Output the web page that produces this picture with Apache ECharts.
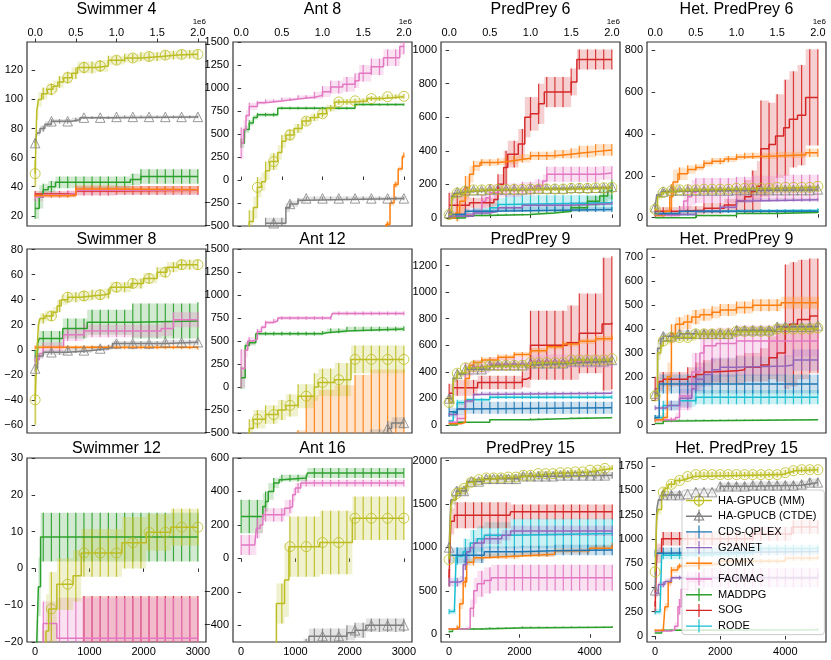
<!DOCTYPE html>
<html>
 <head>
  <meta charset="utf-8" />
  <title>Benchmark returns</title>
  <script src="https://cdn.jsdelivr.net/npm/echarts@6.0.0/dist/echarts.min.js"></script>
  <style>html, body { margin: 0; padding: 0; background: #fff; }</style>
 </head>
 <body>
  <div id="main" style="width: 831px;height:660px;"></div>
  <script type="text/javascript">

    // every series is a step curve: [x, mean, std] (x in 1e6 steps for the first two rows)
    var sw4_mm = [[0,49,9],[0.02,92,6],[0.04,100,5],[0.08,104,4],[0.15,107,4],[0.22,109,4],[0.28,112,4],[0.35,115,4],[0.45,118,4],[0.52,122,4],[0.75,123,4],[0.9,127,3],[1.1,128.5,3],[1.3,129.5,3],[1.55,130.5,3],[1.75,131,3],[2.0,131,3]];
    var sw4_ctde = [[0,70,3],[0.02,77,2],[0.06,80,2],[0.12,83,2],[0.2,85,1.5],[0.45,86,1.5],[0.55,87.5,1],[1.0,88,1],[2.0,88,1]];
    var sw4_comix = [[0,34,1.5],[0.46,34,1.5],[0.5,38.5,2.5],[1.0,38,2.5],[2.0,38,2.5]];
    var sw4_facmac = [[0,33,3],[0.1,34.5,2],[0.4,35.5,2],[0.5,37.5,3],[2.0,37.5,3]];
    var sw4_maddpg = [[0,25,7],[0.05,33,8],[0.1,38,4],[0.16,40,4],[0.25,43,4],[1.17,45,4],[1.3,47,5],[2.0,47,5]];
    var sw4_sog = [[0,35,2],[0.5,37,3],[1.0,37.5,3],[2.0,37.5,3]];

    var ant8_mm = [[0.05,-700,100],[0.1,-450,120],[0.15,-300,120],[0.2,-80,110],[0.25,-20,100],[0.3,100,100],[0.35,200,90],[0.45,300,80],[0.5,420,70],[0.55,490,60],[0.65,560,50],[0.75,640,45],[0.85,680,40],[0.95,720,40],[1.05,780,35],[1.15,848,30],[1.4,860,25],[1.55,885,25],[1.75,905,25],[2.0,910,25]];
    var ant8_ctde = [[0.3,-470,60],[0.55,-300,50],[0.6,-260,35],[0.7,-220,25],[0.8,-200,20],[2.0,-200,20]];
    var ant8_comix = [[1.72,-700,30],[1.78,-480,30],[1.83,-250,30],[1.88,-50,30],[1.93,120,30],[1.98,250,30],[2.0,270,30]];
    var ant8_facmac = [[0,400,170],[0.03,550,100],[0.06,700,60],[0.1,800,40],[0.2,840,20],[0.3,860,15],[0.5,880,15],[0.7,900,20],[0.9,920,40],[1.0,960,60],[1.1,1010,70],[1.25,1040,80],[1.4,1080,80],[1.45,1160,90],[1.6,1230,90],[1.75,1330,90],[1.95,1450,90],[2.0,1460,90]];
    var ant8_maddpg = [[0,400,50],[0.04,550,40],[0.1,620,30],[0.15,680,25],[0.2,710,20],[0.45,780,15],[1.35,780,15],[1.4,820,12],[2.0,820,12]];

    var pp6_mm = [[0,20,10],[0.03,120,20],[0.06,140,15],[0.1,148,15],[0.2,160,15],[0.3,167,12],[0.5,170,12],[1.0,172,12],[1.5,176,12],[1.8,180,12],[2.0,182,12]];
    var pp6_ctde = [[0,30,10],[0.03,130,25],[0.06,145,20],[0.1,155,15],[0.2,165,15],[0.5,170,12],[1.0,175,12],[1.5,180,12],[2.0,185,12]];
    var pp6_cds = [[0,20,10],[0.2,40,15],[0.5,50,15],[2.0,50,15]];
    var pp6_g2anet = [[0,10,5],[0.3,30,10],[0.5,40,10],[0.6,60,10],[0.9,75,10],[1.5,85,10],[2.0,90,10]];
    var pp6_comix = [[0,0,5],[0.08,30,50],[0.13,100,80],[0.2,180,70],[0.25,260,50],[0.3,310,30],[0.38,330,20],[0.6,335,20],[0.7,345,25],[0.85,355,25],[1.0,370,25],[1.3,380,25],[1.5,385,30],[1.6,395,35],[1.8,405,35],[2.0,405,35]];
    var pp6_facmac = [[0,20,10],[0.3,40,20],[0.4,100,40],[0.45,120,50],[0.5,150,50],[0.6,165,40],[0.9,175,40],[1.05,190,40],[1.15,220,40],[1.2,260,45],[1.7,260,45],[1.85,268,40],[2.0,268,40]];
    var pp6_maddpg = [[0,0,3],[0.2,15,5],[0.5,20,5],[1.0,30,5],[1.3,40,10],[1.5,60,20],[1.7,100,30],[1.85,130,40],[1.95,160,50],[2.0,170,60]];
    var pp6_sog = [[0,75,75],[0.25,90,30],[0.55,110,40],[0.6,200,60],[0.67,300,100],[0.72,380,80],[0.85,440,90],[0.93,600,120],[1.0,620,100],[1.1,680,120],[1.17,750,90],[1.5,810,80],[1.57,944,60],[2.0,944,60]];
    var pp6_rode = [[0,0,5],[0.1,20,10],[0.3,40,20],[0.5,60,30],[0.6,80,40],[0.7,90,45],[2.0,90,45]];

    var hpp6_mm = [[0,40,10],[0.03,100,15],[0.08,120,12],[0.15,128,10],[0.3,133,10],[0.6,136,10],[1.0,140,10],[1.5,145,10],[2.0,150,10]];
    var hpp6_ctde = [[0,50,10],[0.02,110,15],[0.08,125,12],[0.2,130,10],[1.0,132,10],[2.0,135,10]];
    var hpp6_cds = [[0,20,8],[0.3,30,8],[2.0,30,8]];
    var hpp6_g2anet = [[0,15,5],[0.5,30,8],[0.8,50,10],[1.0,80,10],[1.2,85,8],[2.0,85,8]];
    var hpp6_comix = [[0,10,5],[0.12,30,20],[0.18,100,60],[0.22,170,60],[0.28,210,30],[0.4,230,20],[0.5,240,15],[0.6,260,15],[0.7,270,15],[0.85,280,15],[1.0,290,15],[1.1,295,15],[1.5,300,15],[1.8,300,15],[1.85,310,20],[2.0,310,20]];
    var hpp6_facmac = [[0,10,5],[0.3,30,20],[0.35,80,50],[0.4,100,60],[0.45,120,60],[0.5,130,60],[1.0,135,60],[1.2,140,60],[1.5,145,60],[2.0,145,60]];
    var hpp6_maddpg = [[0,0,2],[0.5,10,3],[1.0,20,3],[1.5,25,3],[2.0,30,3]];
    var hpp6_sog = [[0,30,20],[0.3,35,20],[0.6,45,25],[0.85,60,30],[1.0,80,50],[1.1,100,80],[1.18,125,100],[1.25,150,120],[1.3,330,230],[1.4,350,200],[1.48,390,200],[1.58,430,230],[1.65,470,230],[1.75,490,240],[1.85,575,230],[2.0,575,230]];
    var hpp6_rode = [[0,15,5],[0.5,30,5],[1.0,35,5],[2.0,40,5]];

    var sw8_mm = [[0,-40,20],[0.02,-5,10],[0.04,20,5],[0.06,25,4],[0.12,27,4],[0.22,30,4],[0.27,35,5],[0.32,40,4],[0.4,42,4],[0.55,43,4],[0.7,44,4],[0.85,45,4],[0.92,50,4],[1.18,53,4],[1.33,57,4],[1.5,62,4],[1.62,66,4],[1.76,68,4],[2.0,68,4]];
    var sw8_ctde = [[0,-15,3],[0.03,-5,2],[0.1,-2,2],[0.4,-0.5,2],[0.7,1,2],[0.9,2,2],[0.95,5,2],[1.5,5,2],[1.6,6,2],[2.0,6,2]];
    var sw8_comix = [[0,2,1.5],[2.0,1.5,1.5]];
    var sw8_facmac = [[0,-8,4],[0.05,-3,4],[0.1,2,4],[0.35,12,5],[0.6,15,5],[1.3,15,5],[1.55,17,6],[1.7,24,6],[2.0,24,6]];
    var sw8_maddpg = [[0,-5,5],[0.03,5,5],[0.05,9,6],[0.34,17,8],[0.6,17,8],[0.64,22,10],[1.2,23,14],[2.0,23,15]];

    var ant12_mm = [[0.06,-600,100],[0.1,-450,100],[0.15,-350,100],[0.3,-300,100],[0.45,-250,110],[0.55,-200,120],[0.7,-100,130],[0.9,0,150],[0.95,50,150],[1.15,80,180],[1.35,300,150],[2.0,300,150]];
    var ant12_ctde = [[0.3,-800,100],[1.6,-560,100],[1.8,-450,80],[1.85,-390,60],[2.0,-390,60]];
    var ant12_comix = [[0.68,-700,230],[0.8,-650,560],[0.95,-650,620],[1.15,-650,670],[1.4,-650,780],[1.6,-620,810],[2.0,-620,810]];
    var ant12_facmac = [[0,200,210],[0.05,400,80],[0.08,500,40],[0.15,520,30],[0.2,600,30],[0.25,650,25],[0.3,700,20],[0.4,720,20],[0.45,750,20],[1.1,750,20],[1.12,800,20],[2.0,800,20]];
    var ant12_maddpg = [[0,100,120],[0.05,450,40],[0.1,480,30],[0.18,580,20],[1.0,590,20],[1.05,610,25],[1.3,630,25],[2.0,635,25]];

    var pp9_mm = [[0,170,30],[0.05,350,30],[0.1,390,25],[0.2,430,20],[0.3,440,20],[0.5,450,20],[1.0,470,20],[1.5,490,20],[2.0,500,20]];
    var pp9_ctde = [[0,200,30],[0.05,350,25],[0.1,385,20],[0.2,420,20],[0.5,450,20],[1.0,465,20],[1.5,480,20],[2.0,490,20]];
    var pp9_cds = [[0,100,40],[0.05,90,40],[0.1,120,45],[0.2,130,45],[2.0,130,45]];
    var pp9_g2anet = [[0,80,10],[0.1,120,10],[0.2,180,15],[0.3,230,10],[0.4,240,10],[2.0,245,10]];
    var pp9_comix = [[0,10,5],[0.15,20,10],[0.2,350,60],[0.25,450,30],[0.3,470,20],[0.4,490,20],[0.6,510,20],[0.8,530,20],[1.0,560,20],[1.2,590,20],[1.4,610,20],[1.6,630,20],[1.8,650,20],[2.0,660,20]];
    var pp9_facmac = [[0,20,10],[0.1,50,30],[0.2,420,50],[0.3,440,50],[0.5,460,50],[1.0,480,50],[2.0,480,50]];
    var pp9_maddpg = [[0,0,3],[0.1,20,3],[0.5,40,3],[1.0,50,3],[1.5,55,3],[2.0,60,3]];
    var pp9_sog = [[0,240,70],[0.05,280,60],[0.35,320,50],[0.9,345,60],[0.95,360,80],[1.0,600,260],[1.45,620,280],[1.6,690,300],[1.88,760,500],[2.0,770,500]];
    var pp9_rode = [[0,30,10],[0.05,100,20],[0.1,170,20],[0.2,190,15],[0.5,210,15],[2.0,210,15]];

    var hpp9_mm = [[0,120,10],[0.03,300,30],[0.07,330,20],[0.1,350,15],[0.2,365,15],[0.5,380,15],[1.0,390,15],[1.5,400,15],[2.0,405,15]];
    var hpp9_ctde = [[0,130,10],[0.03,320,30],[0.07,360,20],[0.1,370,15],[0.3,380,15],[1.0,395,15],[1.5,410,15],[2.0,415,15]];
    var hpp9_cds = [[0,30,10],[0.05,170,40],[2.0,170,40]];
    var hpp9_g2anet = [[0,70,10],[0.15,80,20],[0.3,110,40],[0.45,150,50],[0.5,190,50],[0.6,210,50],[0.7,230,50],[0.8,240,40],[1.0,245,40],[1.6,250,40],[1.7,270,45],[2.0,270,45]];
    var hpp9_comix = [[0,20,10],[0.1,30,20],[0.15,200,60],[0.2,380,40],[0.25,420,30],[0.35,430,30],[0.45,450,30],[0.55,460,25],[0.7,470,25],[0.8,480,25],[1.0,490,25],[1.2,500,25],[1.55,510,25],[2.0,510,25]];
    var hpp9_facmac = [[0,20,10],[0.25,30,20],[0.3,120,60],[0.45,220,80],[0.55,300,80],[0.6,330,70],[0.75,340,65],[1.0,350,65],[2.0,355,65]];
    var hpp9_maddpg = [[0,5,2],[0.1,15,2],[0.3,20,2],[2.0,22,2]];
    var hpp9_sog = [[0,150,50],[0.05,180,40],[0.1,190,30],[0.4,200,40],[0.5,210,50],[0.6,220,50],[0.7,225,50],[1.0,230,60],[1.1,240,60],[1.3,250,70],[1.4,280,90],[1.5,300,120],[1.6,410,260],[1.65,420,260],[1.75,440,250],[1.9,455,240],[2.0,455,240]];
    var hpp9_rode = [[0,30,10],[0.1,80,20],[0.3,100,25],[0.5,115,30],[2.0,115,30]];

    // last row: x in episodes
    var sw12_mm = [[150,-25,8],[200,-17,10],[250,-11,10],[400,-4.3,7],[700,-2,7],[850,4.2,6.5],[1600,7,7],[2050,9.8,5],[2500,11.2,5],[3000,11.2,5]];
    var sw12_facmac = [[100,-30,10],[150,-15,6],[400,-19,11],[3000,-19,11]];
    var sw12_maddpg = [[0,-40,5],[30,-20,6],[60,-5,8],[100,8.5,6.6],[3000,8.5,6.6]];
    var sw12_sog = [[870,-30,22.5],[3000,-30,22.5]];

    var ant16_mm = [[600,-600,100],[650,-270,120],[800,-130,220],[880,70,180],[1450,95,190],[2050,240,130],[3000,240,130]];
    var ant16_ctde = [[1150,-540,60],[1250,-465,45],[1950,-445,45],[2100,-430,45],[2300,-400,40],[3000,-400,40]];
    var ant16_facmac = [[0,80,60],[250,80,60],[280,180,60],[350,200,50],[400,260,40],[750,260,40],[800,300,50],[900,310,40],[950,380,40],[1000,420,30],[1100,450,20],[3000,450,20]];
    var ant16_maddpg = [[0,250,100],[350,250,100],[400,310,80],[450,340,60],[500,400,50],[600,450,30],[700,470,20],[750,480,20],[1200,480,20],[1220,510,30],[3000,510,30]];

    var pp15_mm = [[0,860,30],[50,1480,60],[100,1550,50],[200,1620,40],[300,1680,40],[500,1750,35],[700,1780,30],[1000,1800,30],[1500,1810,30],[2000,1830,30],[2500,1850,30],[3000,1860,30],[3500,1870,30],[4000,1890,30],[4300,1910,30],[4640,1920,30]];
    var pp15_ctde = [[0,1000,30],[50,1550,60],[200,1650,50],[500,1760,40],[1000,1790,40],[2000,1820,40],[3000,1830,40],[4640,1830,40]];
    var pp15_cds = [[0,910,90],[1000,950,60],[2000,960,60],[3000,970,60],[4640,970,60]];
    var pp15_g2anet = [[0,600,50],[300,620,50],[400,800,60],[500,950,60],[600,1000,60],[700,1050,60],[1000,1100,60],[1500,1140,60],[1750,1190,60],[4640,1190,60]];
    var pp15_comix = [[0,60,10],[200,80,20],[300,350,60],[400,600,60],[500,830,40],[700,880,30],[1000,900,30],[2000,920,30],[3000,960,30],[4000,990,30],[4640,1020,30]];
    var pp15_facmac = [[0,60,10],[500,70,20],[600,300,100],[700,500,150],[800,580,150],[1000,620,150],[1200,650,150],[4640,650,150]];
    var pp15_maddpg = [[0,30,10],[100,60,10],[1000,70,10],[2000,80,10],[4640,85,10]];
    var pp15_sog = [[0,650,100],[50,1300,150],[150,1370,150],[1730,1370,150],[1750,1410,85],[4640,1410,85]];
    var pp15_rode = [[0,260,30],[150,260,30],[200,900,100],[400,950,150],[600,1050,150],[800,1100,150],[1000,1140,150],[1750,1160,170],[4640,1170,170]];

    var hpp15_mm = [[0,660,30],[50,1250,60],[100,1300,50],[200,1480,40],[300,1520,40],[400,1560,35],[600,1600,30],[800,1620,30],[1000,1640,30],[1200,1660,30],[3900,1680,30],[4100,1700,30],[4300,1710,30],[5000,1710,30]];
    var hpp15_ctde = [[0,470,30],[50,1300,60],[100,1400,50],[200,1450,40],[1000,1460,40],[1200,1480,40],[2000,1540,40],[3000,1550,40],[4500,1560,40],[4700,1580,40],[5000,1580,40]];
    var hpp15_cds = [[0,850,40],[100,870,40],[5000,880,40]];
    var hpp15_g2anet = [[0,440,40],[100,530,30],[300,560,30],[500,600,20],[5000,620,20]];
    var hpp15_comix = [[0,60,10],[250,70,10],[300,300,40],[400,550,40],[500,680,30],[700,720,25],[1000,740,25],[2000,770,25],[4000,800,25],[5000,810,25]];
    var hpp15_facmac = [[0,50,10],[500,60,10],[600,100,40],[700,300,80],[800,480,100],[1000,560,100],[1500,600,100],[5000,600,100]];
    var hpp15_maddpg = [[0,30,5],[200,60,5],[1000,65,5],[5000,75,5]];
    var hpp15_sog = [[0,300,60],[50,850,100],[200,1000,70],[3000,1050,70],[4200,1120,70],[5000,1120,70]];
    var hpp15_rode = [[0,250,30],[150,250,30],[200,830,40],[1000,850,40],[3000,900,40],[5000,900,40]];

    // tick labels
    var xt_1e6 = [0, 0.5, 1, 1.5, 2];
    var xt_3000 = [0, 1000, 2000, 3000];
    var xt_5000 = [0, 2000, 4000];
    var yt_sw4 = [20, 40, 60, 80, 100, 120];
    var yt_ant = [-500, -250, 0, 250, 500, 750, 1000, 1250, 1500];
    var yt_pp6 = [0, 200, 400, 600, 800, 1000];
    var yt_hpp6 = [0, 200, 400, 600, 800];
    var yt_sw8 = [-60, -40, -20, 0, 20, 40, 60, 80];
    var yt_pp9 = [0, 200, 400, 600, 800, 1000, 1200];
    var yt_hpp9 = [0, 100, 200, 300, 400, 500, 600, 700];
    var yt_sw12 = [-20, -10, 0, 10, 20, 30];
    var yt_ant16 = [-400, -200, 0, 200, 400, 600];
    var yt_pp15 = [0, 500, 1000, 1500, 2000];
    var yt_hpp15 = [0, 250, 500, 750, 1000, 1250, 1500, 1750];

    var KEYS = ['mm', 'ctde', 'cds', 'g2anet', 'comix', 'facmac', 'maddpg', 'sog', 'rode'];
    var NAMES = {mm: 'HA-GPUCB (MM)', ctde: 'HA-GPUCB (CTDE)', cds: 'CDS-QPLEX', g2anet: 'G2ANET',
                 comix: 'COMIX', facmac: 'FACMAC', maddpg: 'MADDPG', sog: 'SOG', rode: 'RODE'};
    var COLORS = {mm: '#bcbd22', ctde: '#7f7f7f', cds: '#1f77b4', g2anet: '#9467bd', comix: '#ff7f0e',
                  facmac: '#e377c2', maddpg: '#2ca02c', sog: '#d62728', rode: '#17becf'};
    var DRAW_ORDER = ['rode', 'sog', 'maddpg', 'facmac', 'comix', 'g2anet', 'cds', 'ctde', 'mm'];

    var FONT = 'Liberation Sans';
    var AXIS_COLOR = '#333';
    var GRID_LEFT = [27, 233, 441, 647];
    var GRID_TOP = [42, 249, 458];
    var TITLE_TOP = [2, 232, 441];
    var GRID_W = 179, GRID_H = 184;

    var panels = [
      {title: 'Swimmer 4', r: 0, c: 0, x: [-0.1, 2.1], y: [13, 139.5], xt: xt_1e6, yt: yt_sw4, D: 2, mark: 0.2,
       data: {mm: sw4_mm, ctde: sw4_ctde, comix: sw4_comix, facmac: sw4_facmac, maddpg: sw4_maddpg, sog: sw4_sog}},
      {title: 'Ant 8', r: 0, c: 1, x: [-0.1, 2.1], y: [-500, 1500], xt: xt_1e6, yt: yt_ant, D: 2, mark: 0.2,
       data: {mm: ant8_mm, ctde: ant8_ctde, comix: ant8_comix, facmac: ant8_facmac, maddpg: ant8_maddpg}},
      {title: 'PredPrey 6', r: 0, c: 2, x: [-0.1, 2.1], y: [-48, 1048], xt: xt_1e6, yt: yt_pp6, D: 2, mark: 0.1,
       data: {mm: pp6_mm, ctde: pp6_ctde, cds: pp6_cds, g2anet: pp6_g2anet, comix: pp6_comix, facmac: pp6_facmac, maddpg: pp6_maddpg, sog: pp6_sog, rode: pp6_rode}},
      {title: 'Het. PredPrey 6', r: 0, c: 3, x: [-0.1, 2.1], y: [-40, 840], xt: xt_1e6, yt: yt_hpp6, D: 2, mark: 0.1,
       data: {mm: hpp6_mm, ctde: hpp6_ctde, cds: hpp6_cds, g2anet: hpp6_g2anet, comix: hpp6_comix, facmac: hpp6_facmac, maddpg: hpp6_maddpg, sog: hpp6_sog, rode: hpp6_rode}},
      {title: 'Swimmer 8', r: 1, c: 0, x: [-0.1, 2.1], y: [-66.5, 80.5], xt: xt_1e6, yt: yt_sw8, D: 2, mark: 0.2,
       data: {mm: sw8_mm, ctde: sw8_ctde, comix: sw8_comix, facmac: sw8_facmac, maddpg: sw8_maddpg}},
      {title: 'Ant 12', r: 1, c: 1, x: [-0.1, 2.1], y: [-500, 1500], xt: xt_1e6, yt: yt_ant, D: 2, mark: 0.2,
       data: {mm: ant12_mm, ctde: ant12_ctde, comix: ant12_comix, facmac: ant12_facmac, maddpg: ant12_maddpg}},
      {title: 'PredPrey 9', r: 1, c: 2, x: [-0.1, 2.1], y: [-60, 1325], xt: xt_1e6, yt: yt_pp9, D: 2, mark: 0.1,
       data: {mm: pp9_mm, ctde: pp9_ctde, cds: pp9_cds, g2anet: pp9_g2anet, comix: pp9_comix, facmac: pp9_facmac, maddpg: pp9_maddpg, sog: pp9_sog, rode: pp9_rode}},
      {title: 'Het. PredPrey 9', r: 1, c: 3, x: [-0.1, 2.1], y: [-35, 735], xt: xt_1e6, yt: yt_hpp9, D: 2, mark: 0.1,
       data: {mm: hpp9_mm, ctde: hpp9_ctde, cds: hpp9_cds, g2anet: hpp9_g2anet, comix: hpp9_comix, facmac: hpp9_facmac, maddpg: hpp9_maddpg, sog: hpp9_sog, rode: hpp9_rode}},
      {title: 'Swimmer 12', r: 2, c: 0, x: [-150, 3150], y: [-20, 30], xt: xt_3000, yt: yt_sw12, D: 3000, mark: 300,
       data: {mm: sw12_mm, facmac: sw12_facmac, maddpg: sw12_maddpg, sog: sw12_sog}},
      {title: 'Ant 16', r: 2, c: 1, x: [-150, 3150], y: [-500, 600], xt: xt_3000, yt: yt_ant16, D: 3000, mark: 300,
       data: {mm: ant16_mm, ctde: ant16_ctde, facmac: ant16_facmac, maddpg: ant16_maddpg}},
      {title: 'PredPrey 15', r: 2, c: 2, x: [-230, 4860], y: [-90, 2030], xt: xt_5000, yt: yt_pp15, D: 4640, mark: 211,
       data: {mm: pp15_mm, ctde: pp15_ctde, cds: pp15_cds, g2anet: pp15_g2anet, comix: pp15_comix, facmac: pp15_facmac, maddpg: pp15_maddpg, sog: pp15_sog, rode: pp15_rode}},
      {title: 'Het. PredPrey 15', r: 2, c: 3, x: [-250, 5250], y: [-62, 1831], xt: xt_5000, yt: yt_hpp15, D: 5000, mark: 250,
       data: {mm: hpp15_mm, ctde: hpp15_ctde, cds: hpp15_cds, g2anet: hpp15_g2anet, comix: hpp15_comix, facmac: hpp15_facmac, maddpg: hpp15_maddpg, sog: hpp15_sog, rode: hpp15_rode}}
    ];

    // value of a step curve at x (last breakpoint at or before x)
    function stepAt(arr, x) {
        var hit = null;
        for (var i = 0; i < arr.length; i++) {
            if (arr[i][0] <= x + 1e-9) hit = arr[i]; else break;
        }
        return hit;
    }

    function bandRenderer(color) {
        return function (params, api) {
            var p0 = api.coord([api.value(0), api.value(3)]);
            var p1 = api.coord([api.value(1), api.value(2)]);
            var cs = params.coordSys;
            var shape = echarts.graphic.clipRectByRect(
                {x: p0[0], y: p0[1], width: p1[0] - p0[0], height: p1[1] - p0[1]},
                {x: cs.x, y: cs.y, width: cs.width, height: cs.height});
            if (!shape) return;
            return {type: 'rect', shape: shape, style: {fill: color, opacity: 0.22}};
        };
    }

    function errRenderer(color) {
        return function (params, api) {
            var x = api.value(0), y = api.value(1), e = api.value(2);
            var a = api.coord([x, y - e]), b = api.coord([x, y + e]);
            var cs = params.coordSys;
            if (a[0] < cs.x - 0.5 || a[0] > cs.x + cs.width + 0.5) return;
            var y1 = Math.min(Math.max(b[1], cs.y), cs.y + cs.height);
            var y2 = Math.min(Math.max(a[1], cs.y), cs.y + cs.height);
            if (y2 - y1 < 0.5) return;
            return {type: 'line', shape: {x1: a[0], y1: y1, x2: a[0], y2: y2},
                    style: {stroke: color, lineWidth: 1.2, opacity: 0.9}};
        };
    }

    function minus(v) { return String(v).replace('-', '\u2212'); }

    var grid = [], xAxis = [], yAxis = [], series = [], title = [], graphic = [];

    panels.forEach(function (p, i) {
        var left = GRID_LEFT[p.c], top = GRID_TOP[p.r];
        grid.push({left: left, top: top, width: GRID_W, height: GRID_H, show: true,
                   borderColor: AXIS_COLOR, borderWidth: 1.2, backgroundColor: '#fff'});
        title.push({text: p.title, left: left + GRID_W / 2, top: TITLE_TOP[p.r], textAlign: 'center', padding: 0,
                    textStyle: {fontSize: 16, fontWeight: 'normal', color: '#000', fontFamily: FONT}});
        xAxis.push({
            gridIndex: i, type: 'value', min: p.x[0], max: p.x[1],
            show: p.r !== 1, position: p.r === 0 ? 'top' : 'bottom',
            axisLine: {show: false}, splitLine: {show: false},
            axisTick: {show: true, length: 3.5, customValues: p.xt, lineStyle: {color: AXIS_COLOR, width: 1}},
            axisLabel: {customValues: p.xt, fontSize: 11, color: '#000', fontFamily: FONT, margin: 4,
                        formatter: p.r === 0 ? function (v) { return v.toFixed(1); } : function (v) { return String(v); }}
        });
        yAxis.push({
            gridIndex: i, type: 'value', min: p.y[0], max: p.y[1],
            axisLine: {show: false}, splitLine: {show: false},
            axisTick: {show: true, length: 3.5, customValues: p.yt, lineStyle: {color: AXIS_COLOR, width: 1}},
            axisLabel: {customValues: p.yt, fontSize: 11, color: '#000', fontFamily: FONT, margin: 4, formatter: minus}
        });
        if (p.r === 0) {
            graphic.push({type: 'text', x: left + GRID_W, y: 22,
                          style: {text: '1e6', fontSize: 8, fontFamily: FONT, fill: '#000', align: 'right', verticalAlign: 'middle'}});
        }

        var errStep = p.D / 20;

        // shaded std bands first
        DRAW_ORDER.forEach(function (k) {
            var arr = p.data[k];
            if (!arr) return;
            var band = [];
            for (var j = 0; j < arr.length - 1; j++) {
                band.push([arr[j][0], arr[j + 1][0], arr[j][1] - arr[j][2], arr[j][1] + arr[j][2]]);
            }
            series.push({type: 'custom', xAxisIndex: i, yAxisIndex: i, z: 1, silent: true,
                         encode: {x: [0, 1], y: [2, 3]}, data: band, renderItem: bandRenderer(COLORS[k])});
        });

        DRAW_ORDER.forEach(function (k) {
            var arr = p.data[k];
            if (!arr) return;
            var color = COLORS[k];
            // error bars every D/20
            var bars = [];
            for (var n = 0; n <= 20; n++) {
                var xb = +(n * errStep).toFixed(6);
                var v = stepAt(arr, xb);
                if (v) bars.push([xb, v[1], v[2]]);
            }
            series.push({type: 'custom', name: NAMES[k], xAxisIndex: i, yAxisIndex: i, z: 2, silent: true,
                         itemStyle: {color: color}, encode: {x: 0, y: 1}, data: bars, renderItem: errRenderer(color)});
            series.push({type: 'line', xAxisIndex: i, yAxisIndex: i, z: 3, silent: true, step: 'end',
                         showSymbol: false, symbol: 'none', lineStyle: {color: color, width: 1.5},
                         itemStyle: {color: color}, data: arr.map(function (d) { return [d[0], d[1]]; })});
            if (k === 'mm' || k === 'ctde') {
                var marks = [];
                for (var m = 0; m * p.mark <= p.D + 1e-9; m++) {
                    var xm = +(m * p.mark).toFixed(6);
                    var w = stepAt(arr, xm);
                    if (w) marks.push([xm, w[1]]);
                }
                series.push({type: 'scatter', xAxisIndex: i, yAxisIndex: i, z: 4, silent: true,
                             symbol: k === 'mm' ? 'circle' : 'triangle', symbolSize: k === 'mm' ? 10 : 9.5,
                             itemStyle: {color: 'rgba(0,0,0,0)', borderColor: color, borderWidth: 1},
                             data: marks});
            }
        });
    });

    // legend icons: line with an error bar, plus the hollow marker for the two HA-GPUCB variants
    var BASE_ICON = 'M0,5.8 H26 V7.2 H0 Z M12.4,0 H13.6 V13 H12.4 Z';
    var RING = ' M7.7,6.5 A5.3,5.3 0 1,1 18.3,6.5 A5.3,5.3 0 1,1 7.7,6.5 Z M8.8,6.5 A4.2,4.2 0 1,0 17.2,6.5 A4.2,4.2 0 1,0 8.8,6.5 Z';
    var TRI = ' M13,1 L18.6,10.8 L7.4,10.8 Z M13,3.1 L9.2,9.8 L16.8,9.8 Z';
    var legendData = KEYS.map(function (k) {
        var icon = BASE_ICON + (k === 'mm' ? RING : (k === 'ctde' ? TRI : ''));
        return {name: NAMES[k], icon: 'path://' + icon};
    });

    var myChart = echarts.init(document.getElementById('main'));
    myChart.setOption({
        animation: false,
        textStyle: {fontFamily: FONT},
        title: title,
        grid: grid,
        xAxis: xAxis,
        yAxis: yAxis,
        graphic: graphic,
        legend: {
            data: legendData, orient: 'vertical', left: 682, top: 490,
            itemWidth: 26, itemHeight: 13, itemGap: 2.7, selectedMode: false,
            padding: [4, 8, 2, 4], backgroundColor: 'rgba(255,255,255,0.8)',
            borderColor: '#cccccc', borderWidth: 1, borderRadius: 3,
            itemStyle: {borderWidth: 0},
            textStyle: {fontSize: 11, color: '#000', fontFamily: FONT, padding: [0, 0, 0, 1]}
        },
        series: series
    });
</script>
 </body>
</html>
